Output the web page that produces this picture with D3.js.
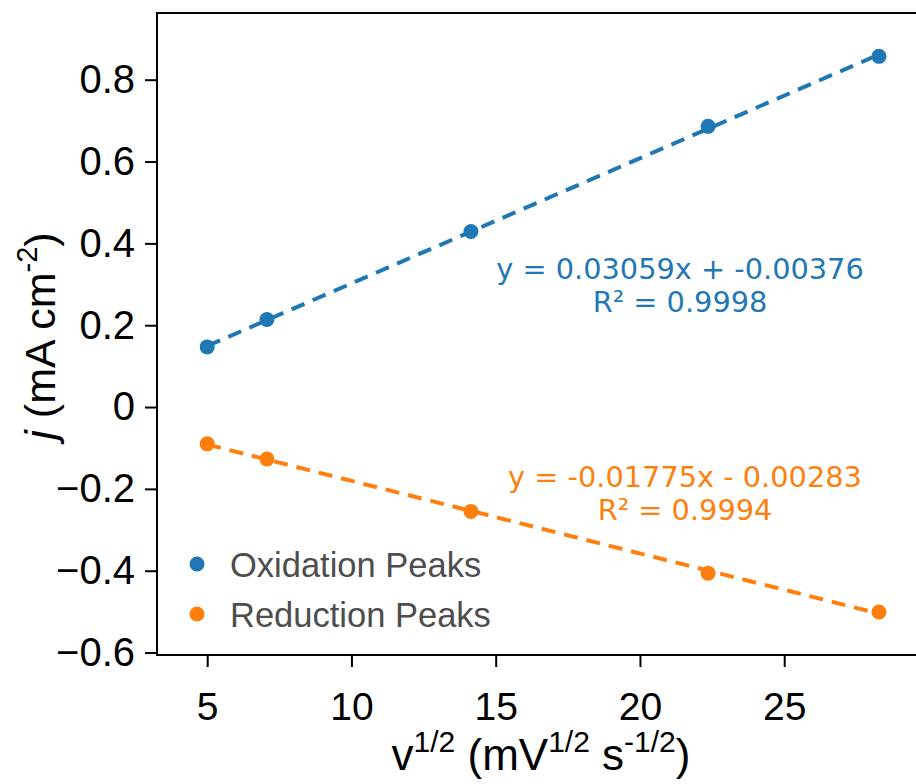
<!DOCTYPE html>
<html lang="en">
<head>
    <meta charset="utf-8">
    <script src="https://d3js.org/d3.v7.min.js"></script>
    <style>
        body { margin: 0; background: #fff; }
    </style>
</head>
<body>
    <script type="text/javascript">

        // data
        let scanRoot = [5, 7.071, 14.142, 22.361, 28.284];
        let oxidation = [0.147, 0.214, 0.429, 0.686, 0.857];
        let reduction = [-0.090, -0.127, -0.255, -0.406, -0.501];
        let oxFit = [0.03059, -0.00376];
        let redFit = [-0.01775, -0.00283];
        let xTicks = [5, 10, 15, 20, 25];
        let yTicks = [-0.6, -0.4, -0.2, 0, 0.2, 0.4, 0.6, 0.8];
        let seriesNames = ["Oxidation Peaks", "Reduction Peaks"];
        let fitLabels = [["y = 0.03059x + -0.00376", "R\u00b2 = 0.9998"],
                         ["y = -0.01775x - 0.00283", "R\u00b2 = 0.9994"]];

        let w = 916;
        let h = 784;
        let blue = "#1f77b4";
        let orange = "#ff7f0e";

        let padL = 157, padT = 13, padR = 940, padB = 655;

        let svg = d3.select("body").append("svg")
                    .attr("width", w)
                    .attr("height", h);

        let x = d3.scaleLinear().domain([3.26, 30.4]).range([padL, padR]);
        let y = d3.scaleLinear().domain([-0.606, 0.963]).range([padB, padT]);

        let tickFont = "'Liberation Sans', Arial, sans-serif";

        // axes
        let xAxis = svg.append("g")
            .attr("transform", "translate(0," + padB + ")")
            .call(d3.axisBottom(x).tickValues(xTicks).tickSize(12).tickFormat(d3.format("d")));
        let yAxis = svg.append("g")
            .attr("transform", "translate(" + padL + ",0)")
            .call(d3.axisLeft(y).tickValues(yTicks).tickSize(12).tickPadding(10)
                .tickFormat(function(d){ return d === 0 ? "0" : d3.format(".1f")(d).replace("-", "\u2212"); }));

        [xAxis, yAxis].forEach(function(g){
            g.select(".domain").remove();
            g.selectAll("line").attr("stroke", "#000").attr("stroke-width", 2);
            g.selectAll("text").attr("fill", "#000").style("font-family", tickFont).style("font-size", "40px");
        });
        xAxis.selectAll("text").attr("y", 65).attr("dy", null).style("font-size", "39px");

        // frame
        svg.append("path")
            .attr("d", "M" + w + "," + padT + "H" + padL + "V" + padB + "H" + w)
            .attr("fill", "none")
            .attr("stroke", "#000")
            .attr("stroke-width", 2);

        // fit lines
        let xs = d3.extent(scanRoot);
        [[oxFit, blue], [redFit, orange]].forEach(function(f){
            svg.append("line")
                .attr("x1", x(xs[0])).attr("y1", y(f[0][0] * xs[0] + f[0][1]))
                .attr("x2", x(xs[1])).attr("y2", y(f[0][0] * xs[1] + f[0][1]))
                .attr("stroke", f[1])
                .attr("stroke-width", 4)
                .attr("stroke-dasharray", "14,9");
        });

        // points
        [[oxidation, blue], [reduction, orange]].forEach(function(s){
            svg.append("g").selectAll("circle")
                .data(s[0])
                .join("circle")
                    .attr("cx", function(d, i){ return x(scanRoot[i]); })
                    .attr("cy", function(d){ return y(d); })
                    .attr("r", 7.5)
                    .attr("fill", s[1]);
        });

        // fit annotations
        let annFont = "'DejaVu Sans', Verdana, sans-serif";
        [[fitLabels[0], blue, 680, 279], [fitLabels[1], orange, 685, 487]].forEach(function(a){
            a[0].forEach(function(t, k){
                svg.append("text")
                    .attr("x", a[2]).attr("y", a[3] + k * 33)
                    .attr("text-anchor", "middle")
                    .attr("fill", a[1])
                    .style("font-family", annFont).style("font-size", "28.8px")
                    .text(t);
            });
        });

        // legend
        let legend = svg.append("g").selectAll("g")
            .data(seriesNames)
            .join("g")
                .attr("transform", function(d, i){ return "translate(197," + (564 + i * 50) + ")"; });
        legend.append("circle")
            .attr("r", 7.5)
            .attr("fill", function(d, i){ return i === 0 ? blue : orange; });
        legend.append("text")
            .attr("x", 33)
            .attr("y", 13)
            .attr("fill", "#4d4d4d")
            .style("font-family", tickFont).style("font-size", "34.5px")
            .text(function(d){ return d; });

        // x label
        let xl = svg.append("text")
            .attr("x", 541).attr("y", 770)
            .attr("text-anchor", "middle")
            .style("font-family", tickFont).style("font-size", "44px")
            .attr("fill", "#000");
        xl.append("tspan").text("v");
        xl.append("tspan").attr("dy", -18).style("font-size", "30px").text("1/2");
        xl.append("tspan").attr("dy", 18).text(" (mV");
        xl.append("tspan").attr("dy", -18).style("font-size", "30px").text("1/2");
        xl.append("tspan").attr("dy", 18).text(" s");
        xl.append("tspan").attr("dy", -18).style("font-size", "30px").text("-1/2");
        xl.append("tspan").attr("dy", 18).text(")");

        // y label
        let yl = svg.append("text")
            .attr("transform", "translate(55,336) rotate(-90)")
            .attr("text-anchor", "middle")
            .style("font-family", tickFont).style("font-size", "43px")
            .attr("fill", "#000");
        yl.append("tspan").style("font-style", "italic").text("j");
        yl.append("tspan").text(" (mA cm");
        yl.append("tspan").attr("dy", -18).style("font-size", "29px").text("-2");
        yl.append("tspan").attr("dy", 18).text(")");

    </script>
</body>
</html>
